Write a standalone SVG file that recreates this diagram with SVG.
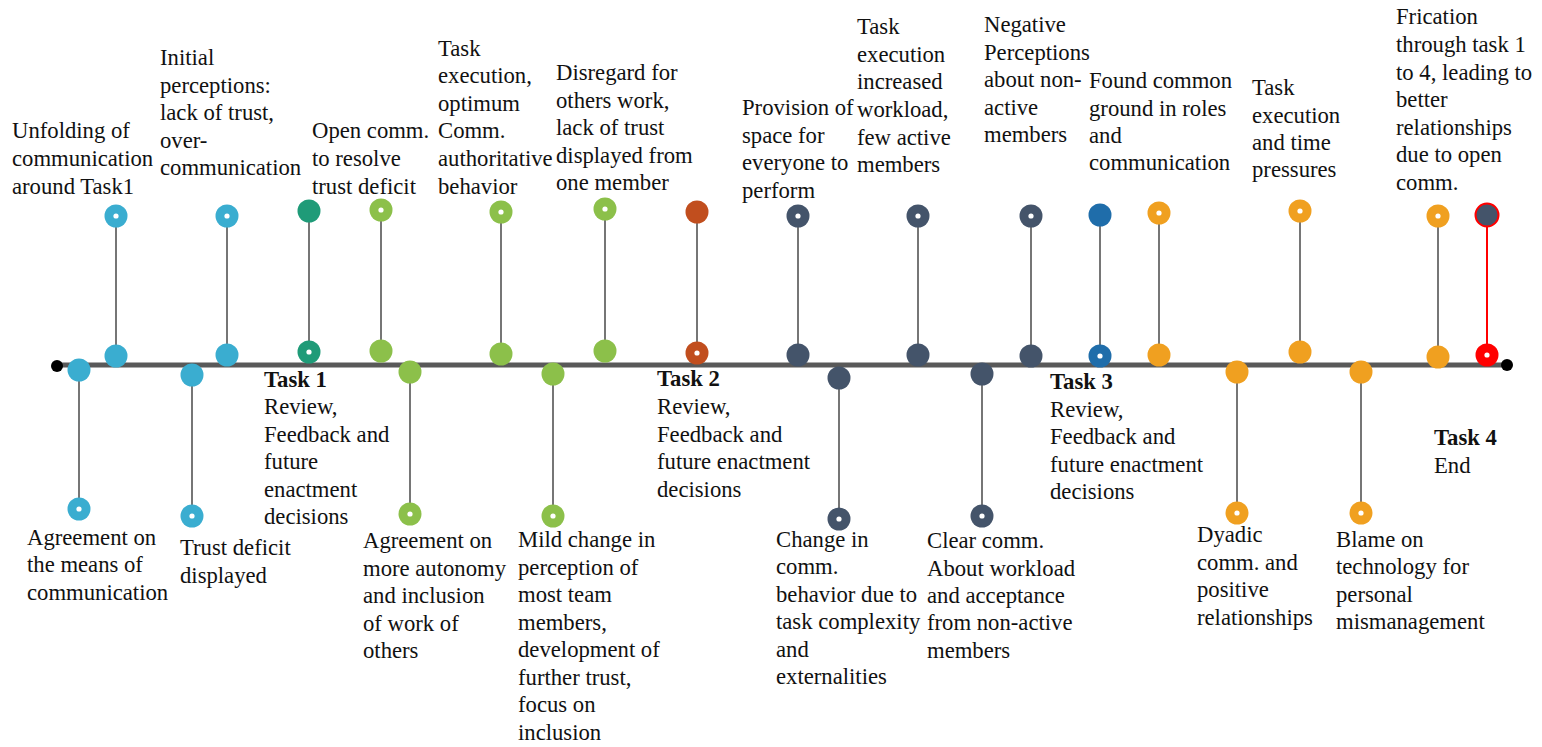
<svg xmlns="http://www.w3.org/2000/svg" width="1542" height="747" viewBox="0 0 1542 747">
  <style>
    text { font-family: "Liberation Serif", "Times New Roman", serif; font-size: 22.7px; fill: #111; }
    .b { font-weight: bold; }
    .stem { stroke: #767676; stroke-width: 2; }
    .axis { stroke: #595959; stroke-width: 5; }
    .dot { fill: #fff; }
    .c-sky { fill: #3AADD0; }
    .c-teal { fill: #1F9B78; }
    .c-lime { fill: #8CC04A; }
    .c-rust { fill: #C14E1E; }
    .c-slate { fill: #44546A; }
    .c-blue { fill: #1F6DAA; }
    .c-amber { fill: #F0A020; }
    .c-red { fill: #FF0000; }
  </style>
  <defs>
    <circle id="pin" r="11.5"/>
    <circle id="hole" r="2.6" class="dot"/>
  </defs>
  <rect width="1542" height="747" fill="#fff"/>

  <!-- connectors: axis and event stems -->
  <g id="connectors">
    <line class="axis" x1="57" y1="365" x2="1507" y2="365"/>
    <line class="stem" x1="116" y1="216" x2="116" y2="356"/>
    <line class="stem" x1="227" y1="216" x2="227" y2="355"/>
    <line class="stem" x1="309" y1="211" x2="309" y2="352"/>
    <line class="stem" x1="381" y1="210" x2="381" y2="351"/>
    <line class="stem" x1="501" y1="212" x2="501" y2="354"/>
    <line class="stem" x1="605" y1="209" x2="605" y2="351"/>
    <line class="stem" x1="697" y1="212" x2="697" y2="353"/>
    <line class="stem" x1="798" y1="216" x2="798" y2="355"/>
    <line class="stem" x1="918" y1="216" x2="918" y2="355"/>
    <line class="stem" x1="1031" y1="216" x2="1031" y2="356"/>
    <line class="stem" x1="1100" y1="215" x2="1100" y2="356"/>
    <line class="stem" x1="1159" y1="213" x2="1159" y2="355"/>
    <line class="stem" x1="1300" y1="211" x2="1300" y2="352"/>
    <line class="stem" x1="1438" y1="216" x2="1438" y2="357"/>
    <line x1="1487" y1="215" x2="1487" y2="355" stroke="#FF0000" stroke-width="2"/>
    <line class="stem" x1="79" y1="370" x2="79" y2="509"/>
    <line class="stem" x1="192" y1="375" x2="192" y2="516"/>
    <line class="stem" x1="410" y1="372" x2="410" y2="514"/>
    <line class="stem" x1="553" y1="374" x2="553" y2="516"/>
    <line class="stem" x1="839" y1="378" x2="839" y2="519"/>
    <line class="stem" x1="982" y1="374" x2="982" y2="516"/>
    <line class="stem" x1="1237" y1="372" x2="1237" y2="513"/>
    <line class="stem" x1="1361" y1="372" x2="1361" y2="513"/>
  </g>

  <!-- axis end caps -->
  <g id="axis-ends">
    <circle cx="57" cy="366" r="6" fill="#000"/>
    <circle cx="1507" cy="365" r="6" fill="#000"/>
  </g>

  <!-- Task 1 phase -->
  <g id="ev-unfolding">
    <use href="#pin" class="c-sky" x="116" y="216"/><use href="#hole" x="116" y="216"/>
    <use href="#pin" class="c-sky" x="116" y="356"/>
    <text x="12" y="138">Unfolding of</text>
    <text x="12" y="166">communication</text>
    <text x="12" y="194">around Task1</text>
  </g>
  <g id="ev-agreement-means">
    <use href="#pin" class="c-sky" x="79" y="370"/>
    <use href="#pin" class="c-sky" x="79" y="509"/><use href="#hole" x="79" y="509"/>
    <text x="27" y="545">Agreement on</text>
    <text x="27" y="572">the means of</text>
    <text x="27" y="600">communication</text>
  </g>
  <g id="ev-initial-perceptions">
    <use href="#pin" class="c-sky" x="227" y="216"/><use href="#hole" x="227" y="216"/>
    <use href="#pin" class="c-sky" x="227" y="355"/>
    <text x="160" y="65">Initial</text>
    <text x="160" y="93">perceptions:</text>
    <text x="160" y="120">lack of trust,</text>
    <text x="160" y="148">over-</text>
    <text x="160" y="175">communication</text>
  </g>
  <g id="ev-trust-deficit">
    <use href="#pin" class="c-sky" x="192" y="375"/>
    <use href="#pin" class="c-sky" x="192" y="516"/><use href="#hole" x="192" y="516"/>
    <text x="180" y="555">Trust deficit</text>
    <text x="180" y="583">displayed</text>
  </g>
  <g id="ev-task1">
    <use href="#pin" class="c-teal" x="309" y="211"/>
    <use href="#pin" class="c-teal" x="309" y="352"/><use href="#hole" x="309" y="352"/>
    <text x="312" y="138">Open comm.</text>
    <text x="312" y="166">to resolve</text>
    <text x="312" y="194">trust deficit</text>
    <text x="264" y="387" class="b">Task 1</text>
    <text x="264" y="414">Review,</text>
    <text x="264" y="442">Feedback and</text>
    <text x="264" y="469">future</text>
    <text x="264" y="497">enactment</text>
    <text x="264" y="524">decisions</text>
  </g>
  <g id="ev-open-comm">
    <use href="#pin" class="c-lime" x="381" y="210"/><use href="#hole" x="381" y="210"/>
    <use href="#pin" class="c-lime" x="381" y="351"/>
  </g>
  <g id="ev-autonomy">
    <use href="#pin" class="c-lime" x="410" y="372"/>
    <use href="#pin" class="c-lime" x="410" y="514"/><use href="#hole" x="410" y="514"/>
    <text x="363" y="548">Agreement on</text>
    <text x="363" y="576">more autonomy</text>
    <text x="363" y="603">and inclusion</text>
    <text x="363" y="631">of work of</text>
    <text x="363" y="658">others</text>
  </g>
  <g id="ev-task-execution-1">
    <use href="#pin" class="c-lime" x="501" y="212"/><use href="#hole" x="501" y="212"/>
    <use href="#pin" class="c-lime" x="501" y="354"/>
    <text x="438" y="56">Task</text>
    <text x="438" y="83">execution,</text>
    <text x="438" y="111">optimum</text>
    <text x="438" y="138">Comm.</text>
    <text x="438" y="166">authoritative</text>
    <text x="438" y="194">behavior</text>
  </g>
  <g id="ev-mild-change">
    <use href="#pin" class="c-lime" x="553" y="374"/>
    <use href="#pin" class="c-lime" x="553" y="516"/><use href="#hole" x="553" y="516"/>
    <text x="518" y="547">Mild change in</text>
    <text x="518" y="575">perception of</text>
    <text x="518" y="602">most team</text>
    <text x="518" y="630">members,</text>
    <text x="518" y="657">development of</text>
    <text x="518" y="685">further trust,</text>
    <text x="518" y="712">focus on</text>
    <text x="518" y="740">inclusion</text>
  </g>
  <g id="ev-disregard">
    <use href="#pin" class="c-lime" x="605" y="209"/><use href="#hole" x="605" y="209"/>
    <use href="#pin" class="c-lime" x="605" y="351"/>
    <text x="556" y="80">Disregard for</text>
    <text x="556" y="108">others work,</text>
    <text x="556" y="135">lack of trust</text>
    <text x="556" y="163">displayed from</text>
    <text x="556" y="190">one member</text>
  </g>

  <!-- Task 2 phase -->
  <g id="ev-task2">
    <use href="#pin" class="c-rust" x="697" y="212"/>
    <use href="#pin" class="c-rust" x="697" y="353"/><use href="#hole" x="697" y="353"/>
    <text x="657" y="386" class="b">Task 2</text>
    <text x="657" y="414">Review,</text>
    <text x="657" y="442">Feedback and</text>
    <text x="657" y="469">future enactment</text>
    <text x="657" y="497">decisions</text>
  </g>
  <g id="ev-provision">
    <use href="#pin" class="c-slate" x="798" y="216"/><use href="#hole" x="798" y="216"/>
    <use href="#pin" class="c-slate" x="798" y="355"/>
    <text x="742" y="115">Provision of</text>
    <text x="742" y="143">space for</text>
    <text x="742" y="170">everyone to</text>
    <text x="742" y="198">perform</text>
  </g>
  <g id="ev-change-behavior">
    <use href="#pin" class="c-slate" x="839" y="378"/>
    <use href="#pin" class="c-slate" x="839" y="519"/><use href="#hole" x="839" y="519"/>
    <text x="776" y="547">Change in</text>
    <text x="776" y="574">comm.</text>
    <text x="776" y="602">behavior due to</text>
    <text x="776" y="629">task complexity</text>
    <text x="776" y="657">and</text>
    <text x="776" y="684">externalities</text>
  </g>
  <g id="ev-workload">
    <use href="#pin" class="c-slate" x="918" y="216"/><use href="#hole" x="918" y="216"/>
    <use href="#pin" class="c-slate" x="918" y="355"/>
    <text x="857" y="34">Task</text>
    <text x="857" y="62">execution</text>
    <text x="857" y="89">increased</text>
    <text x="857" y="117">workload,</text>
    <text x="857" y="145">few active</text>
    <text x="857" y="172">members</text>
  </g>
  <g id="ev-clear-comm">
    <use href="#pin" class="c-slate" x="982" y="374"/>
    <use href="#pin" class="c-slate" x="982" y="516"/><use href="#hole" x="982" y="516"/>
    <text x="927" y="548">Clear comm.</text>
    <text x="927" y="576">About workload</text>
    <text x="927" y="603">and acceptance</text>
    <text x="927" y="630">from non-active</text>
    <text x="927" y="658">members</text>
  </g>
  <g id="ev-negative">
    <use href="#pin" class="c-slate" x="1031" y="216"/><use href="#hole" x="1031" y="216"/>
    <use href="#pin" class="c-slate" x="1031" y="356"/>
    <text x="984" y="32">Negative</text>
    <text x="984" y="60">Perceptions</text>
    <text x="984" y="87">about non-</text>
    <text x="984" y="115">active</text>
    <text x="984" y="142">members</text>
  </g>

  <!-- Task 3 phase -->
  <g id="ev-task3">
    <use href="#pin" class="c-blue" x="1100" y="215"/>
    <use href="#pin" class="c-blue" x="1100" y="356"/><use href="#hole" x="1100" y="356"/>
    <text x="1050" y="389" class="b">Task 3</text>
    <text x="1050" y="417">Review,</text>
    <text x="1050" y="444">Feedback and</text>
    <text x="1050" y="472">future enactment</text>
    <text x="1050" y="499">decisions</text>
  </g>
  <g id="ev-common-ground">
    <use href="#pin" class="c-amber" x="1159" y="213"/><use href="#hole" x="1159" y="213"/>
    <use href="#pin" class="c-amber" x="1159" y="355"/>
    <text x="1089" y="88">Found common</text>
    <text x="1089" y="116">ground in roles</text>
    <text x="1089" y="143">and</text>
    <text x="1089" y="170">communication</text>
  </g>
  <g id="ev-dyadic">
    <use href="#pin" class="c-amber" x="1237" y="372"/>
    <use href="#pin" class="c-amber" x="1237" y="513"/><use href="#hole" x="1237" y="513"/>
    <text x="1197" y="542">Dyadic</text>
    <text x="1197" y="570">comm. and</text>
    <text x="1197" y="597">positive</text>
    <text x="1197" y="625">relationships</text>
  </g>
  <g id="ev-time-pressure">
    <use href="#pin" class="c-amber" x="1300" y="211"/><use href="#hole" x="1300" y="211"/>
    <use href="#pin" class="c-amber" x="1300" y="352"/>
    <text x="1252" y="95">Task</text>
    <text x="1252" y="123">execution</text>
    <text x="1252" y="150">and time</text>
    <text x="1252" y="177">pressures</text>
  </g>
  <g id="ev-blame">
    <use href="#pin" class="c-amber" x="1361" y="372"/>
    <use href="#pin" class="c-amber" x="1361" y="513"/><use href="#hole" x="1361" y="513"/>
    <text x="1336" y="547">Blame on</text>
    <text x="1336" y="574">technology for</text>
    <text x="1336" y="602">personal</text>
    <text x="1336" y="629">mismanagement</text>
  </g>
  <g id="ev-frication">
    <use href="#pin" class="c-amber" x="1438" y="216"/><use href="#hole" x="1438" y="216"/>
    <use href="#pin" class="c-amber" x="1438" y="357"/>
    <text x="1396" y="24">Frication</text>
    <text x="1396" y="52">through task 1</text>
    <text x="1396" y="80">to 4, leading to</text>
    <text x="1396" y="107">better</text>
    <text x="1396" y="135">relationships</text>
    <text x="1396" y="162">due to open</text>
    <text x="1396" y="190">comm.</text>
  </g>

  <!-- Task 4 end -->
  <g id="ev-task4">
    <circle cx="1487" cy="215" r="11.5" class="c-slate" stroke="#FF0000" stroke-width="2"/>
    <use href="#pin" class="c-red" x="1487" y="355"/><use href="#hole" x="1487" y="355"/>
    <text x="1434" y="445" class="b">Task 4</text>
    <text x="1434" y="473">End</text>
  </g>
</svg>
